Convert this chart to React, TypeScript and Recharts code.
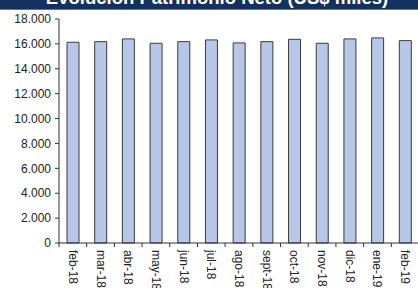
import React from "react";
import { BarChart, Bar, XAxis, YAxis } from "recharts";

const title = "Evolución Patrimonio Neto (US$ miles)";
const months = ["feb-18", "mar-18", "abr-18", "may-18", "jun-18", "jul-18", "ago-18", "sept-18", "oct-18", "nov-18", "dic-18", "ene-19", "feb-19"];
const patrimonio = [16130, 16180, 16400, 16050, 16180, 16320, 16080, 16180, 16370, 16050, 16400, 16480, 16260];
const yTicks = [0, 2000, 4000, 6000, 8000, 10000, 12000, 14000, 16000, 18000];

const data = months.map((m, i) => ({ month: m, value: patrimonio[i] }));

const fmt = (v: number) => (v === 0 ? "0" : v.toLocaleString("de-DE"));

const XTick = (props: any) => {
  const { x, y, payload } = props;
  const off = payload && payload.offset ? payload.offset : 13.85;
  return (
    <g>
      <line x1={x - off} y1={y - 8} x2={x - off} y2={y - 4} stroke="#333" strokeWidth={1} />
      <text
        x={0}
        y={0}
        transform={`translate(${x},${y - 1}) rotate(90)`}
        textAnchor="start"
        dominantBaseline="central"
        fontSize={12}
        fill="#222"
        fontFamily="Liberation Sans, Arial, sans-serif"
      >
        {payload.value}
      </text>
    </g>
  );
};

export default function App() {
  return (
    <div style={{ position: "absolute", top: 0, left: 0, width: 418, height: 288, overflow: "hidden", background: "#fff" }}>
      <div
        style={{
          position: "absolute",
          top: 0,
          left: 0,
          width: 418,
          height: 9,
          background: "#13305e",
          borderBottom: "1px solid #5a78a8",
          overflow: "hidden",
        }}
      >
        <div
          style={{
            position: "absolute",
            top: -12,
            left: 0,
            width: 434,
            textAlign: "center",
            color: "#fff",
            fontWeight: "bold",
            fontSize: 18.5,
            lineHeight: "20px",
            fontFamily: "Liberation Sans, Arial, sans-serif",
            whiteSpace: "nowrap",
          }}
        >
          {title}
        </div>
      </div>
      <div style={{ position: "absolute", top: 0, left: 0 }}>
        <BarChart width={420} height={288} data={data} margin={{ top: 19, right: 1, left: 0, bottom: 0 }}>
          <XAxis
            dataKey="month"
            interval={0}
            height={45}
            tickLine={false}
            axisLine={{ stroke: "#333" }}
            tick={<XTick />}
          />
          <YAxis
            width={59}
            domain={[0, 18000]}
            ticks={yTicks}
            interval={0}
            tickFormatter={fmt}
            tickSize={4}
            tickMargin={4}
            axisLine={{ stroke: "#333" }}
            tickLine={{ stroke: "#333" }}
            tick={{ fontSize: 12, fill: "#222", fontFamily: "Liberation Sans, Arial, sans-serif" }}
          />
          <Bar dataKey="value" barSize={12} fill="#b6c7e8" stroke="#3a3a3a" strokeWidth={1} isAnimationActive={false} />
        </BarChart>
      </div>
    </div>
  );
}
